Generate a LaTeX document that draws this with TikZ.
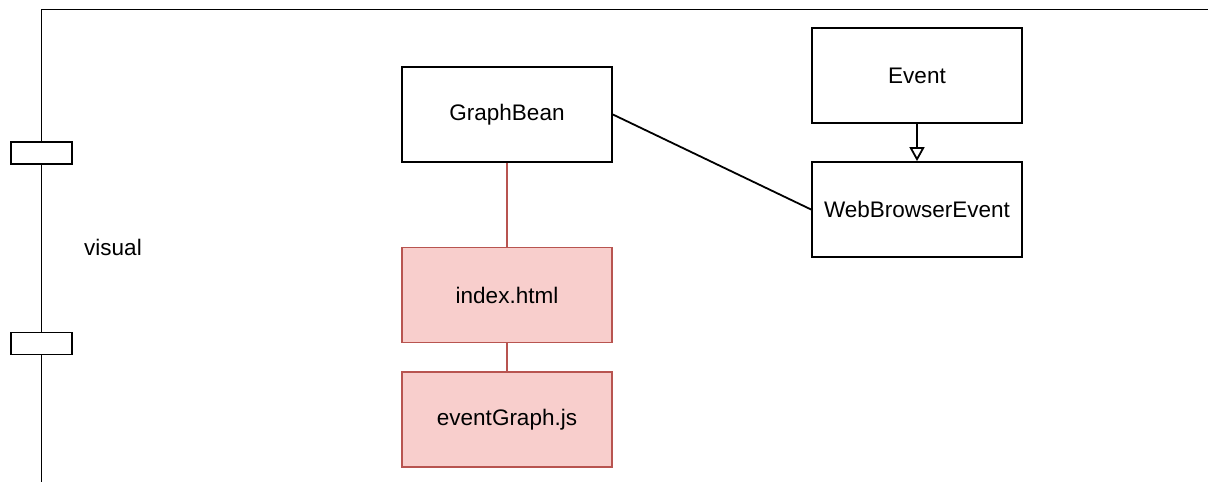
\documentclass[tikz,border=0pt]{standalone}
\usepackage{fontspec}
\setmainfont{Liberation Sans}
\usetikzlibrary{arrows.meta}

\definecolor{filefill}{HTML}{F8CECC}
\definecolor{fileline}{HTML}{B85450}

\tikzset{
  thickline/.style={line width=1.8pt},
  classbox/.style={draw, thickline, fill=white, minimum width=210pt, minimum height=95pt,
    inner sep=0pt, font=\fontsize{22.5}{27}\selectfont},
  filebox/.style={classbox, draw=fileline, fill=filefill},
  portbox/.style={draw, thickline, fill=white, minimum width=61pt, minimum height=22pt, inner sep=0pt},
}

\begin{document}
\begin{tikzpicture}[x=1pt, y=-1pt]
  \useasboundingbox (0,0) rectangle (1208,482);
  % package frame
  \coordinate (frametop) at (1208,9.5);
  \coordinate (framecorner) at (41.5,9.5);
  \coordinate (framebottom) at (41.5,482);
  \draw [thickline] (framebottom) -- (framecorner) -- (frametop);
  \node [portbox] (portA) at (41.5,153) {};
  \node [portbox] (portB) at (41.5,343.5) {};
  \node [font=\fontsize{22.5}{27}\selectfont] (visual) at (113,247) {visual};
  % classes
  \node [classbox] (graphbean) at (507,114.5) {GraphBean};
  \node [classbox] (event) at (917,75.5) {Event};
  \node [classbox] (wbevent) at (917,209.5) {WebBrowserEvent};
  % web files
  \node [filebox] (index) at (507,295) {index.html};
  \node [filebox] (eventjs) at (507,419.5) {eventGraph.js};
  % links
  \draw [thickline] (graphbean.east) -- (wbevent.west);
  \draw [thickline, -{Triangle[open, length=14pt, width=15pt]}] (event.south) -- (wbevent.north);
  \draw [thickline, draw=fileline] (graphbean.south) -- (index.north);
  \draw [thickline, draw=fileline] (index.south) -- (eventjs.north);
\end{tikzpicture}
\end{document}
